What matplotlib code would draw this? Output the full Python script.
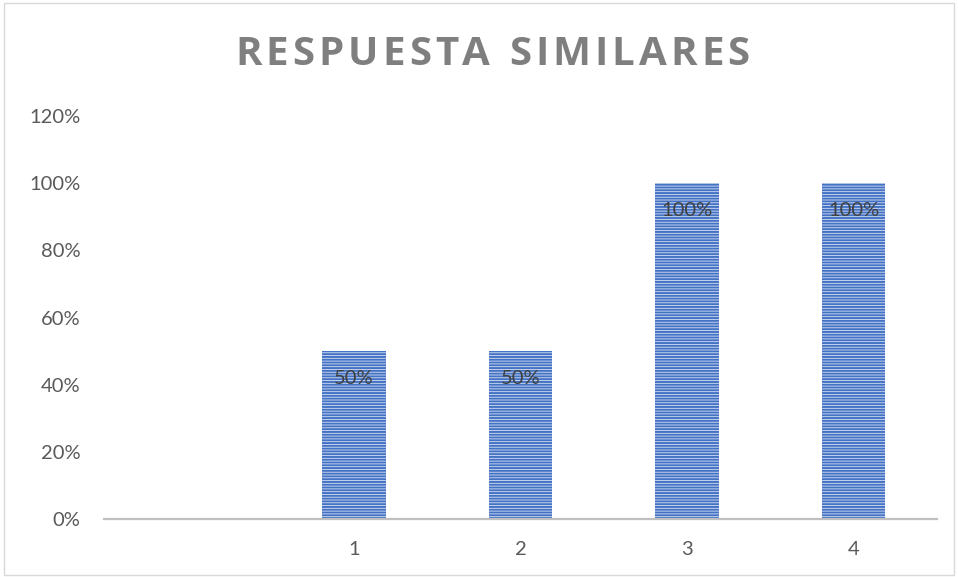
import numpy as np
import matplotlib
matplotlib.use("Agg")
import matplotlib.pyplot as plt
from matplotlib.patches import Rectangle

# datos del grafico
categorias = ["", "1", "2", "3", "4"]
valores = [np.nan, 0.50, 0.50, 1.00, 1.00]
etiquetas = ["", "50%", "50%", "100%", "100%"]
ticks_y = [0, 0.2, 0.4, 0.6, 0.8, 1.0, 1.2]
titulo = "RESPUESTA SIMILARES"

plt.rcParams["font.family"] = ["Lato", "DejaVu Sans"]
plt.rcParams["hatch.linewidth"] = 1.4
plt.rcParams["hatch.color"] = "#4472C4"

fig = plt.figure(figsize=(9.58, 5.77), dpi=100)
ax = fig.add_axes([0.1086, 0.1005, 0.8695, 0.6984])

x = np.arange(len(categorias))
barras = ax.bar(x, valores, width=0.38, color="#d6e0f2", edgecolor="#4472C4",
                linewidth=0, hatch="------")

for xi, v, lab in zip(x, valores, etiquetas):
    if np.isnan(v):
        continue
    ax.annotate(lab, (xi, v), xytext=(0, -20), textcoords="offset points",
                ha="center", va="center", fontsize=14.5, color="#404040")

ax.set_xlim(-0.5, len(categorias) - 0.5)
ax.set_ylim(0, 1.2)
ax.set_yticks(ticks_y)
ax.set_yticklabels([f"{int(round(t * 100))}%" for t in ticks_y])
ax.set_xticks(x)
ax.set_xticklabels(categorias)
ax.tick_params(axis="both", length=0, labelsize=14.5, colors="#595959")
ax.tick_params(axis="y", pad=17)
ax.tick_params(axis="x", pad=16)

for s in ["top", "right", "left"]:
    ax.spines[s].set_visible(False)
ax.spines["bottom"].set_color("#bfbfbf")
ax.spines["bottom"].set_linewidth(1.6)

# titulo con espaciado entre letras (letra por letra)
renderer = fig.canvas.get_renderer()
estilo = dict(fontsize=29, fontweight="bold", color="#7f7f7f",
              family=["Open Sans", "DejaVu Sans"], va="center", ha="left")
espacio = 4.0  # px entre letras
anchos = []
for ch in titulo:
    t = fig.text(0, 0, ch if ch != " " else "a", **estilo)
    anchos.append(t.get_window_extent(renderer).width * (0.45 if ch == " " else 1))
    t.remove()
total = sum(anchos) + espacio * (len(titulo) - 1)
xpix = 0.514 * fig.bbox.width - total / 2
for ch, w in zip(titulo, anchos):
    if ch != " ":
        fig.text(xpix / fig.bbox.width, 0.905, ch, **estilo)
    xpix += w + espacio

# borde del grafico
fig.patches.append(Rectangle((0.004, 0.004), 0.992, 0.99, transform=fig.transFigure,
                             fill=False, edgecolor="#d9d9d9", linewidth=1))

fig.savefig("out.png", dpi=100)
